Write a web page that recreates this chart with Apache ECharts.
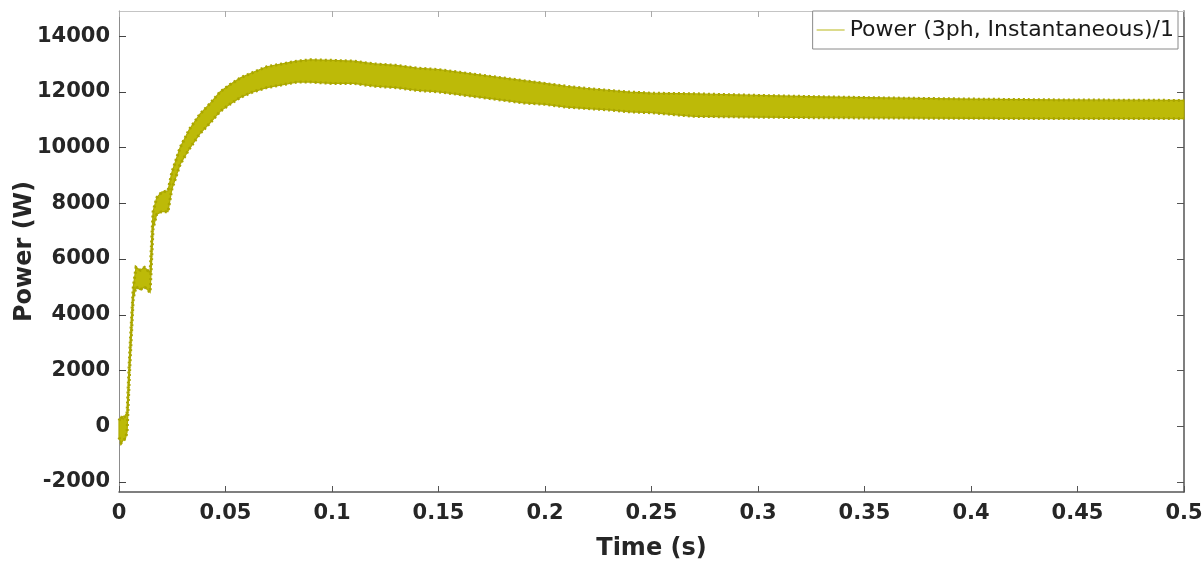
<!DOCTYPE html>
<html>
<head>
<meta charset="utf-8">
<script src="https://cdn.jsdelivr.net/npm/echarts@6/dist/echarts.min.js"></script>
<style>
html,body{margin:0;padding:0;background:#fff;}
#chart{width:1204px;height:562px;}
</style>
</head>
<body>
<div id="chart"></div>
<script>
// Time (s)
const timeS = [0, 0.001, 0.002, 0.003, 0.0038, 0.005, 0.0067, 0.008, 0.01, 0.012, 0.0146, 0.016, 0.0177, 0.02, 0.023, 0.0248, 0.0287, 0.033, 0.038, 0.043, 0.0475, 0.052, 0.057, 0.063, 0.0694, 0.0765, 0.0835, 0.09, 0.1, 0.11, 0.12, 0.13, 0.14, 0.15, 0.16, 0.17, 0.18, 0.19, 0.2, 0.21, 0.22, 0.23, 0.24, 0.25, 0.27, 0.3, 0.33, 0.36, 0.4, 0.44, 0.47, 0.5];
// Upper envelope of the ripple band (W)
const powerUpper = [200, 350, 250, 400, 500, 2600, 5000, 5700, 5600, 5700, 5500, 7700, 8200, 8400, 8450, 9100, 10000, 10650, 11200, 11600, 12000, 12250, 12500, 12700, 12900, 13000, 13100, 13150, 13130, 13100, 13000, 12950, 12850, 12800, 12700, 12600, 12500, 12400, 12300, 12200, 12120, 12050, 11990, 11950, 11930, 11870, 11820, 11780, 11740, 11710, 11700, 11690];
// Lower envelope of the ripple band (W)
const powerLower = [-400, -600, -500, -450, -200, 2000, 4600, 5000, 4900, 5000, 4800, 7100, 7600, 7700, 7700, 8500, 9400, 9950, 10500, 10900, 11300, 11550, 11800, 12000, 12150, 12250, 12350, 12350, 12300, 12300, 12200, 12150, 12050, 12000, 11900, 11800, 11700, 11600, 11550, 11450, 11400, 11350, 11280, 11250, 11120, 11090, 11070, 11060, 11050, 11040, 11040, 11040];
// Tick values
const yTicks = [-2000, 0, 2000, 4000, 6000, 8000, 10000, 12000, 14000];
const xTicks = [0, 0.05, 0.1, 0.15, 0.2, 0.25, 0.3, 0.35, 0.4, 0.45, 0.5];

const seriesName = 'Power (3ph, Instantaneous)/1';
const bandColor = '#bdba08';
const edgeColor = '#aeaa00';
const FONT = 'DejaVu Sans';

const bandData = timeS.map((t, i) => [t, powerLower[i], powerUpper[i]]);

const chart = echarts.init(document.getElementById('chart'), null, {renderer: 'canvas'});
const labelStyle = {fontFamily: FONT, fontWeight: 'bold', fontSize: 21, color: '#262626'};
chart.setOption({
  animation: false,
  backgroundColor: '#fff',
  grid: {left: 119, right: 20, top: 11, bottom: 70, containLabel: false, outerBoundsMode: 'none'},
  legend: {
    data: [{name: seriesName, icon: 'rect', itemStyle: {color: '#dcdb8c'}}],
    right: 26, top: 11,
    padding: [8, 4, 8, 4],
    itemWidth: 28, itemHeight: 2,
    borderColor: '#8a8a8a', borderWidth: 1,
    backgroundColor: '#fff',
    textStyle: {fontFamily: FONT, fontSize: 22, color: '#1a1a1a'}
  },
  xAxis: [{
    type: 'value', min: 0, max: 0.5, position: 'bottom',
    name: 'Time (s)', nameLocation: 'middle', nameGap: 45, nameMoveOverlap: false,
    nameTextStyle: {fontFamily: FONT, fontWeight: 'bold', fontSize: 24, color: '#262626'},
    axisLine: {onZero: false, lineStyle: {color: '#555', width: 1.5}},
    axisTick: {inside: true, length: 6, lineStyle: {color: '#555'}, customValues: xTicks},
    axisLabel: Object.assign({margin: 11, customValues: xTicks, formatter: v => String(+v.toFixed(2))}, labelStyle),
    splitLine: {show: false}
  }, {
    type: 'value', min: 0, max: 0.5, position: 'top',
    axisLine: {onZero: false, lineStyle: {color: '#c4c4c4', width: 1}},
    axisTick: {inside: true, length: 6, lineStyle: {color: '#aaa'}, customValues: xTicks},
    axisLabel: {show: false}, splitLine: {show: false}
  }],
  yAxis: [{
    type: 'value', min: -2360, max: 14900, position: 'left',
    name: 'Power (W)', nameLocation: 'middle', nameGap: 82, nameMoveOverlap: false,
    nameTextStyle: {fontFamily: FONT, fontWeight: 'bold', fontSize: 24, color: '#262626'},
    axisLine: {show: true, onZero: false, lineStyle: {color: '#8c8c8c', width: 1}},
    axisTick: {show: true, inside: true, length: 7, lineStyle: {color: '#444'}, customValues: yTicks},
    axisLabel: Object.assign({margin: 9, customValues: yTicks, formatter: v => String(v)}, labelStyle),
    splitLine: {show: false}
  }, {
    type: 'value', min: -2360, max: 14900, position: 'right',
    axisLine: {show: true, onZero: false, lineStyle: {color: '#555', width: 1.5}},
    axisTick: {show: true, inside: true, length: 7, lineStyle: {color: '#555'}, customValues: yTicks},
    axisLabel: {show: false}, splitLine: {show: false}
  }],
  series: [{
    name: seriesName, type: 'custom', data: bandData,
    xAxisIndex: 0, yAxisIndex: 0,
    itemStyle: {color: bandColor},
    silent: true,
    encode: {x: 0, y: [1, 2]},
    renderItem: function (params, api) {
      if (params.dataIndex !== 0) return null;
      const up = [], lo = [];
      for (let i = 0; i < timeS.length; i++) {
        up.push(api.coord([timeS[i], powerUpper[i]]));
        lo.push(api.coord([timeS[i], powerLower[i]]));
      }
      const poly = up.concat(lo.slice().reverse());
      return {
        type: 'group',
        children: [
          {type: 'polygon', shape: {points: poly}, style: {fill: bandColor, stroke: edgeColor, lineWidth: 1.2}},
          {type: 'polyline', shape: {points: up}, style: {fill: null, stroke: '#aaa600', lineWidth: 3, lineDash: [2, 3]}},
          {type: 'polyline', shape: {points: lo}, style: {fill: null, stroke: '#aaa600', lineWidth: 3, lineDash: [2, 3]}}
        ]
      };
    }
  }]
});
</script>
</body>
</html>
